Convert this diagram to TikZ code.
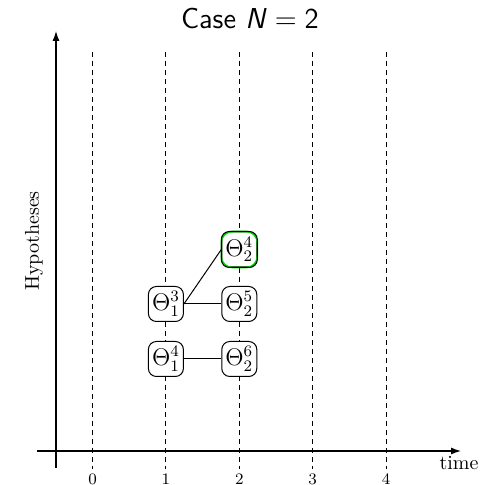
\documentclass[tikz,border=0pt]{standalone}
\usetikzlibrary{arrows.meta}
\begin{document}
\begin{tikzpicture}[x=0.5pt,y=-0.5pt,
  hyp/.style={draw, rounded corners=4pt, fill=white, minimum width=17.5pt, minimum height=17.5pt, inner sep=0.5pt, line width=0.5pt, font=\large},
  gridline/.style={dash pattern=on 2.5pt off 2pt, line width=0.5pt},
  axisline/.style={line width=0.6pt, -{Latex[length=5pt,width=3.5pt]}},
  tick/.style={font=\footnotesize},
  link/.style={line width=0.5pt}]
\useasboundingbox (0,0) rectangle (497,485);
% title
\node (title) at (250,19) {\Large\sffamily Case \textsl{N}\;=\;2};
% axes
\coordinate (yb) at (56,468);
\coordinate (yt) at (56,31);
\coordinate (xl) at (37,451);
\coordinate (xr) at (461,451);
\draw[axisline] (yb) -- (yt);
\draw[axisline] (xl) -- (xr);
\node[rotate=90] (ylab) at (34,241) {Hypotheses};
\node (xlab) at (459,463) {time};
% time grid
\foreach \i in {0,...,4} {
  \coordinate (gt\i) at ({92.5+73.4*\i},52);
  \coordinate (gb\i) at ({92.5+73.4*\i},469);
  \draw[gridline] (gt\i) -- (gb\i);
  \node[tick] (t\i) at ({92.5+73.4*\i},479) {\i};
}
% hypotheses
\node[hyp] (a3) at (165.9,304) {$\Theta^3_1$};
\node[hyp] (a4) at (165.9,359) {$\Theta^4_1$};
\node[hyp] (b4) at (239.3,249.5) {$\Theta^4_2$};
\node[hyp] (b5) at (239.3,304) {$\Theta^5_2$};
\node[hyp] (b6) at (239.3,359) {$\Theta^6_2$};
% green highlight on b4
\draw[green!85!black, line width=0.8pt, rounded corners=5.5pt] (b4.south west) rectangle (b4.north east);
\draw[line width=0.5pt, rounded corners=4pt] (b4.south west) rectangle (b4.north east);
% links
\draw[link] (a3.east) -- (b4.west);
\draw[link] (a3.east) -- (b5.west);
\draw[link] (a4.east) -- (b6.west);
\end{tikzpicture}
\end{document}
